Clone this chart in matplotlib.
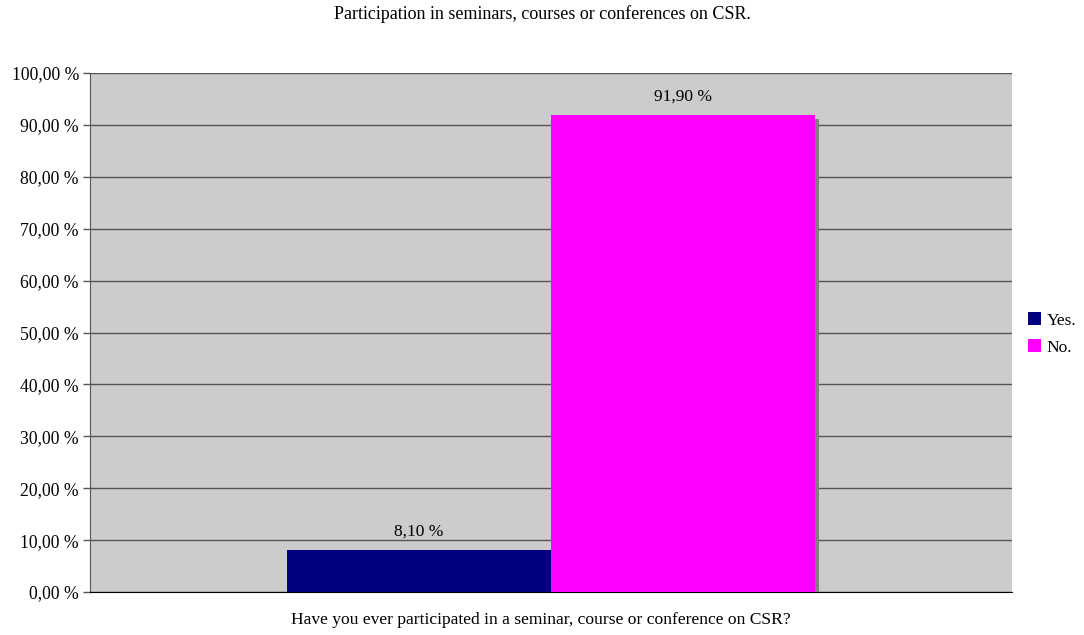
import matplotlib
matplotlib.use("Agg")
import matplotlib.pyplot as plt
import matplotlib.patheffects as pe
from matplotlib.patches import Patch
from matplotlib.ticker import FuncFormatter

plt.rcParams['font.family'] = ['Liberation Serif', 'DejaVu Serif']

title = "Participation in seminars, courses or conferences on CSR."
xlabel = "Have you ever participated in a seminar, course or conference on CSR?"
series = ["Yes.", "No."]
values = [8.10, 91.90]
colors = ["#000080", "#FF00FF"]

fig = plt.figure(figsize=(10.84, 6.35), dpi=100)
ax = fig.add_axes([90 / 1084, 1 - 592 / 635, 922 / 1084, 519 / 635])
ax.set_facecolor("#CCCCCC")

width = 0.2863
offsets = [-width / 2, width / 2]
for name, v, c, off in zip(series, values, colors, offsets):
    ax.bar(off, v, width=width, color=c, zorder=3,
           path_effects=[pe.SimplePatchShadow(offset=(3, -3), shadow_rgbFace="#808080", alpha=1.0),
                         pe.Normal()])
    ax.text(off, v + 2.0, f"{v:.2f} %".replace(".", ","), ha="center", va="bottom",
            fontsize=12.5, zorder=4)

ax.set_xlim(-0.5, 0.5)
ax.set_ylim(0, 100)
ax.set_yticks(range(0, 101, 10))
ax.yaxis.set_major_formatter(FuncFormatter(lambda y, _: f"{y:.2f} %".replace(".", ",")))
ax.tick_params(axis="y", labelsize=12.7, length=5, color="#555555", width=1, pad=3)
ax.set_xticks([])
ax.grid(axis="y", color="#555555", linewidth=1, zorder=1)
for s in ["top", "right"]:
    ax.spines[s].set_visible(False)
ax.spines["left"].set_color("#555555")
ax.spines["bottom"].set_color("black")

fig.text(0.5, 1 - 14 / 635, title, ha="center", va="center", fontsize=13)
fig.text(541 / 1084, 1 - 620 / 635, xlabel, ha="center", va="center", fontsize=12.6)

handles = [Patch(facecolor=c, label=n) for n, c in zip(series, colors)]
ax.legend(handles=handles, loc="center left", bbox_to_anchor=(1.0, 0.497), frameon=False,
          fontsize=12.5, handlelength=0.75, handleheight=0.75, handletextpad=0.35,
          labelspacing=0.6, borderaxespad=0.5)

fig.savefig("out.png", dpi=100)
